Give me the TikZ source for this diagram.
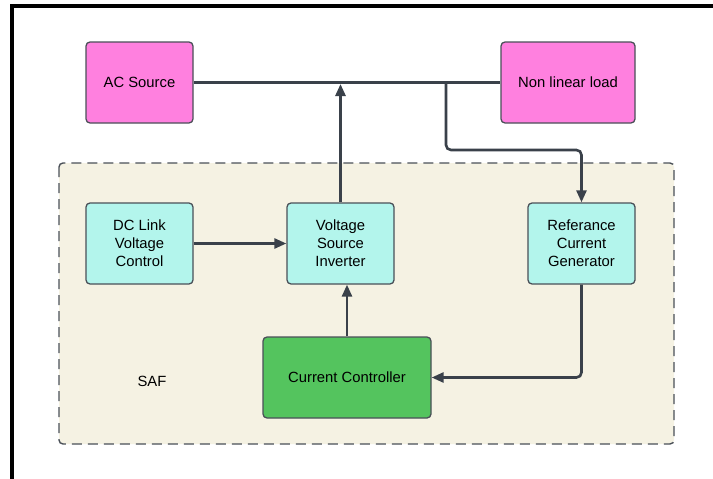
\documentclass[tikz,border=0pt]{standalone}
\usepackage{fontspec}
\setmainfont{Liberation Sans}
\usetikzlibrary{arrows.meta,calc}
\definecolor{pinkbox}{HTML}{FF80DF}
\definecolor{cyanbox}{HTML}{B3F5EC}
\definecolor{greenbox}{HTML}{54C45E}
\definecolor{linec}{HTML}{3A414A}
\definecolor{beige}{HTML}{F5F2E3}
\definecolor{bordc}{HTML}{4A5058}
\tikzset{
  blk/.style={draw=bordc, line width=1.3pt, rounded corners=4pt, align=center,
    font=\fontsize{14.8}{18}\selectfont, inner sep=0pt},
  conn/.style={draw=linec, line width=2.6pt, rounded corners=5pt},
  arr/.style={conn, -{Triangle[width=10pt,length=12pt]}},
}
\begin{document}
\begin{tikzpicture}[x=1pt,y=-1pt]
\useasboundingbox (0,0) rectangle (713,479);
\fill[white] (0,0) rectangle (713,479);
% outer frame
\draw[black, line width=4pt] (12,479) -- (12,5.5) -- (713,5.5);
% SAF container
\draw[draw=bordc, fill=beige, line width=1.4pt, dash pattern=on 10pt off 6pt, rounded corners=4pt]
  (59,163) rectangle (674,444);
\node[font=\fontsize{14.8}{18}\selectfont] (saf) at (152,381) {SAF};
% blocks
\node[blk, fill=pinkbox, minimum width=107pt, minimum height=81pt] (ac) at (139.5,82.5) {AC Source};
\node[blk, fill=pinkbox, minimum width=134pt, minimum height=81pt] (nll) at (568,82.5) {Non linear load};
\node[blk, fill=cyanbox, minimum width=107pt, minimum height=81pt] (dc) at (139.5,243.5) {DC Link\\Voltage\\Control};
\node[blk, fill=cyanbox, minimum width=107pt, minimum height=81pt] (vsi) at (340.5,243.5) {Voltage\\Source\\Inverter};
\node[blk, fill=cyanbox, minimum width=107pt, minimum height=81pt] (ref) at (581.5,243.5) {Referance\\Current\\Generator};
\node[blk, fill=greenbox, minimum width=168pt, minimum height=81pt] (cc) at (347,377.5) {Current Controller};
% connectors
\draw[conn] (ac.east) -- (nll.west);
\coordinate (br) at (446,84);
\coordinate (bend) at (446,150);
\draw[arr] (br) -- (bend) -| (ref.north);
\draw[arr] (vsi.north) -- (vsi.north |- br);
\draw[arr] (dc.east) -- (vsi.west);
\draw[arr] (cc.north) -- (cc.north |- vsi.south);
\draw[arr] (ref.south) |- (cc.east);
\end{tikzpicture}
\end{document}
